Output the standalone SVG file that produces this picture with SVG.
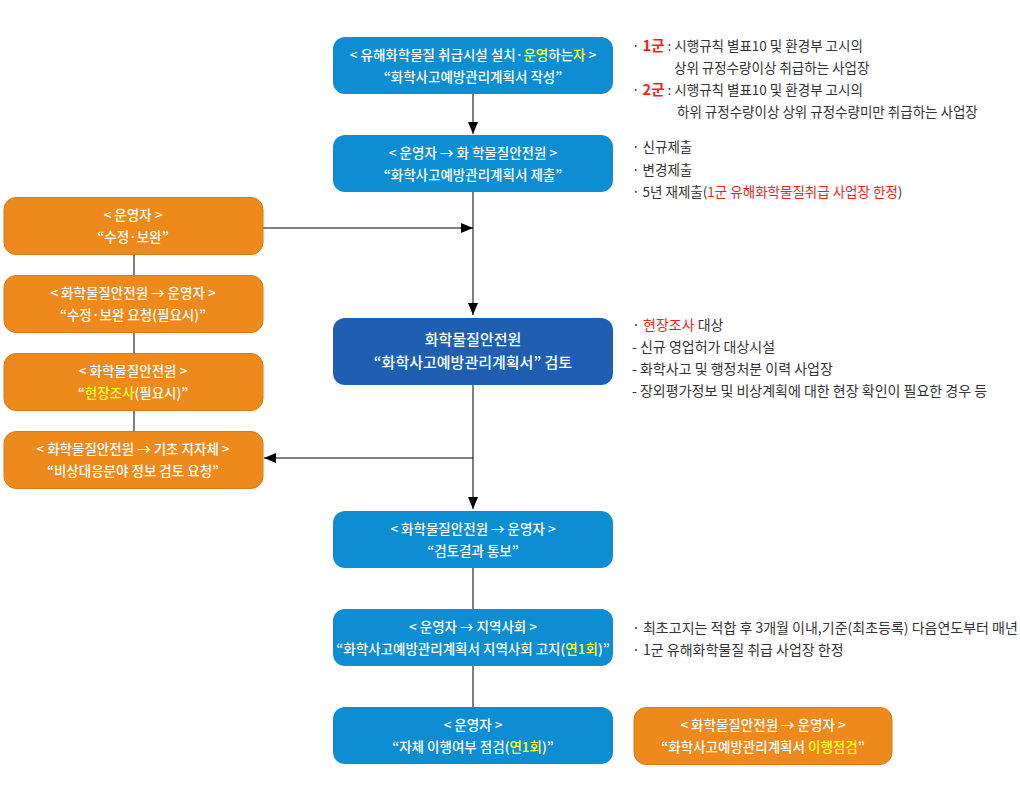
<svg xmlns="http://www.w3.org/2000/svg" width="1020" height="800" viewBox="0 0 1020 800">
<defs>
<style>
text{font-family:"Noto Sans CJK KR","Noto Sans",sans-serif;}
.b{fill:#0e8ed2;}
.d{fill:#1f5fb1;}
.o{fill:#ee891c;stroke:#d97a12;stroke-width:1;}
.t{font-size:13.5px;fill:#ffffff;text-anchor:middle;font-weight:500;}
.tl{font-size:15px;fill:#ffffff;text-anchor:middle;font-weight:500;}
.y{fill:#ffff2e;}
.n{font-size:13.5px;fill:#333333;}
.n2{font-size:14px;fill:#333333;}
.r{fill:#ff1a1a;}
.rb{fill:#ff1a1a;font-weight:700;font-size:14.5px;}
.c{stroke:#000000;stroke-width:1;fill:none;}
</style>
<marker id="ah" viewBox="0 0 12 10" refX="12" refY="5" markerWidth="12" markerHeight="10" markerUnits="userSpaceOnUse" orient="auto">
<path d="M0,0 L12,5 L0,10 Z" fill="#000000"/>
</marker>
</defs>
<rect width="1020" height="800" fill="#ffffff"/>

<g id="connectors">
<line class="c" x1="473" y1="94" x2="473" y2="134" marker-end="url(#ah)"/>
<line class="c" x1="473" y1="192" x2="473" y2="315" marker-end="url(#ah)"/>
<line class="c" x1="263" y1="228" x2="473" y2="228" marker-end="url(#ah)"/>
<line class="c" x1="473" y1="385" x2="473" y2="509" marker-end="url(#ah)"/>
<line class="c" x1="473" y1="458" x2="264" y2="458" marker-end="url(#ah)"/>
<line class="c" x1="473" y1="568" x2="473" y2="609"/>
<line class="c" x1="473" y1="666" x2="473" y2="707"/>
<line class="c" x1="134" y1="254" x2="134" y2="275"/>
<line class="c" x1="134" y1="332" x2="134" y2="353"/>
<line class="c" x1="134" y1="410" x2="134" y2="431"/>
</g>

<g id="node1">
<rect class="b" x="333" y="37" width="280" height="57" rx="12"/>
<text class="t" x="473" y="60">&lt; 유해화학물질 취급시설 설치·<tspan class="y">운영</tspan>하는<tspan class="y">자</tspan> &gt;</text>
<text class="t" x="473" y="82">“화학사고예방관리계획서 작성”</text>
</g>
<g id="node2">
<rect class="b" x="333" y="135" width="280" height="57" rx="12"/>
<text class="t" x="473" y="158">&lt; 운영자 → 화 학물질안전원 &gt;</text>
<text class="t" x="473" y="180">“화학사고예방관리계획서 제출”</text>
</g>
<g id="node3">
<rect class="d" x="333" y="318" width="280" height="67" rx="12"/>
<text class="tl" x="473" y="345">화학물질안전원</text>
<text class="tl" x="473" y="368">“화학사고예방관리계획서” 검토</text>
</g>
<g id="node4">
<rect class="b" x="333" y="511" width="280" height="57" rx="12"/>
<text class="t" x="473" y="534">&lt; 화학물질안전원 → 운영자 &gt;</text>
<text class="t" x="473" y="556">“검토결과 통보”</text>
</g>
<g id="node5">
<rect class="b" x="333" y="609" width="280" height="57" rx="12"/>
<text class="t" x="473" y="632">&lt; 운영자 → 지역사회 &gt;</text>
<text class="t" x="473" y="654">“화학사고예방관리계획서 지역사회 고지(<tspan class="y">연1회</tspan>)”</text>
</g>
<g id="node6">
<rect class="b" x="333" y="707" width="280" height="57" rx="12"/>
<text class="t" x="473" y="730">&lt; 운영자 &gt;</text>
<text class="t" x="473" y="752">“자체 이행여부 점검(<tspan class="y">연1회</tspan>)”</text>
</g>

<g id="nodeA">
<rect class="o" x="4" y="197.5" width="259" height="57" rx="12"/>
<text class="t" x="133" y="220">&lt; 운영자 &gt;</text>
<text class="t" x="133" y="242">“수정·보완”</text>
</g>
<g id="nodeB">
<rect class="o" x="4" y="275.5" width="259" height="57" rx="12"/>
<text class="t" x="133" y="298">&lt; 화학물질안전원 → 운영자 &gt;</text>
<text class="t" x="133" y="320">“수정·보완 요청(필요시)”</text>
</g>
<g id="nodeC">
<rect class="o" x="4" y="353.5" width="259" height="57" rx="12"/>
<text class="t" x="133" y="376">&lt; 화학물질안전원 &gt;</text>
<text class="t" x="133" y="398">“<tspan class="y">현장조사</tspan>(필요시)”</text>
</g>
<g id="nodeD">
<rect class="o" x="4" y="431.5" width="259" height="57" rx="12"/>
<text class="t" x="133" y="454">&lt; 화학물질안전원 → 기초 지자체 &gt;</text>
<text class="t" x="133" y="476">“비상대응분야 정보 검토 요청”</text>
</g>
<g id="nodeE">
<rect class="o" x="634" y="707.5" width="258" height="57" rx="12"/>
<text class="t" x="763" y="730">&lt; 화학물질안전원 → 운영자 &gt;</text>
<text class="t" x="763" y="752">“화학사고예방관리계획서 <tspan class="y">이행점검</tspan>”</text>
</g>

<g id="notes1">
<text class="n" x="632" y="51">· <tspan class="rb">1군</tspan> :  시행규칙 별표10 및 환경부 고시의</text>
<text class="n" x="674" y="73">상위 규정수량이상 취급하는 사업장</text>
<text class="n" x="632" y="95">· <tspan class="rb">2군</tspan> : 시행규칙 별표10 및 환경부 고시의</text>
<text class="n" x="677" y="117">하위 규정수량이상 상위 규정수량미만 취급하는 사업장</text>
</g>
<g id="notes2">
<text class="n" x="632" y="152">· 신규제출</text>
<text class="n" x="632" y="175">· 변경제출</text>
<text class="n" x="632" y="197">· 5년 재제출(<tspan class="r">1군 유해화학물질취급 사업장 한정</tspan>)</text>
</g>
<g id="notes3">
<text class="n2" x="632" y="330">· <tspan class="r">현장조사</tspan> 대상</text>
<text class="n2" x="632" y="352">- 신규 영업허가 대상시설</text>
<text class="n2" x="632" y="374">- 화학사고 및 행정처분 이력 사업장</text>
<text class="n2" x="632" y="396">- 장외평가정보 및 비상계획에 대한 현장 확인이 필요한 경우 등</text>
</g>
<g id="notes4">
<text class="n2" x="632" y="633">· 최초고지는 적합 후 3개월 이내,기준(최초등록) 다음연도부터 매년</text>
<text class="n2" x="632" y="655">· 1군 유해화학물질 취급 사업장 한정</text>
</g>
</svg>
